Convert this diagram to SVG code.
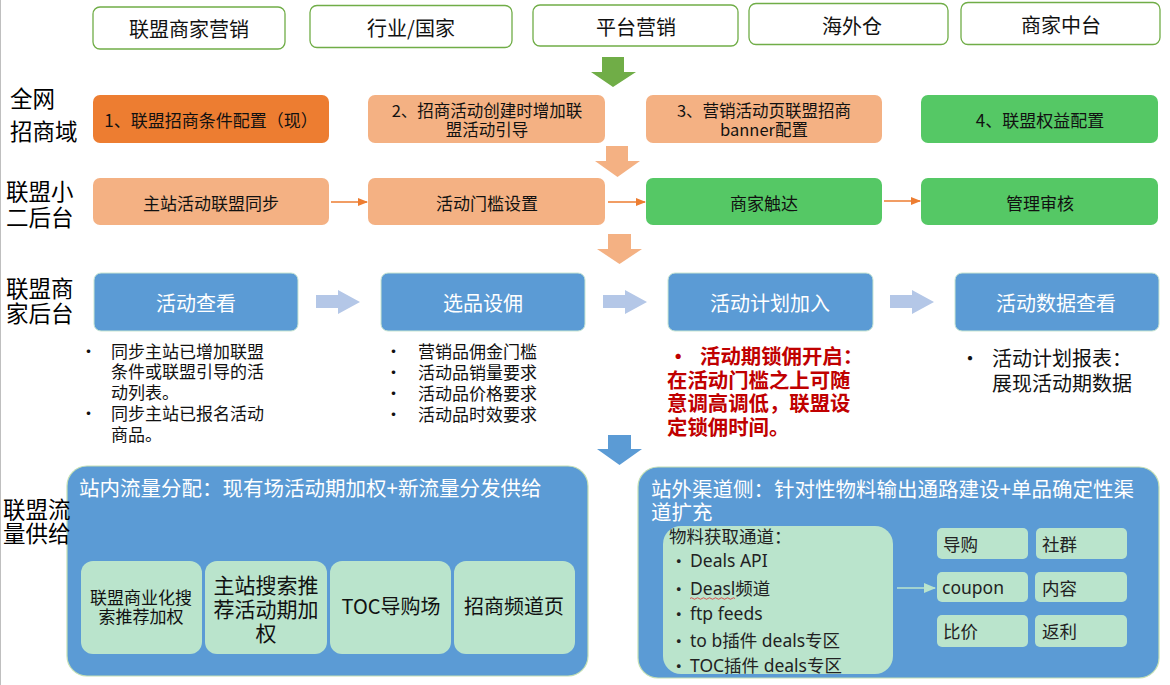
<svg xmlns="http://www.w3.org/2000/svg" width="1170" height="685" viewBox="0 0 1170 685">
<defs>
<style>
text{font-family:"Noto Sans CJK SC","Noto Sans",sans-serif;dominant-baseline:central;fill:#111}
.lat{font-family:"Noto Sans","Noto Sans CJK SC",sans-serif}
.top rect{fill:#fff;stroke:#70AD47;stroke-width:1.3}
.top text{font-size:20px;text-anchor:middle}
.lab{font-size:22.5px;fill:#000}
.o1{fill:#ED7D31}
.o2{fill:#F4B183}
.gr{fill:#55C865}
.r2 text{font-size:17px;text-anchor:middle}
.r2 text.two{font-size:16.5px}
.bl rect{fill:#5B9BD5;stroke:#C9E6D2;stroke-width:1}
.bl text{font-size:20px;fill:#fff;text-anchor:middle}
.bul{font-size:17px}
.red{font-size:20.4px;font-weight:bold;fill:#C00000}
.big{fill:#5B9BD5;stroke:#C5E0B4;stroke-width:1.2}
.ttl{font-size:20.5px;fill:#fff}
.lg{fill:#BAE4CC}
.sub text{text-anchor:middle}
.sm text{font-size:17.5px;fill:#222}
.lst{font-size:17.5px;fill:#222}
</style>
<marker id="ao" markerWidth="10" markerHeight="8" refX="9" refY="4" orient="auto" markerUnits="userSpaceOnUse"><path d="M0,0 L10,4 L0,8 Z" fill="#ED7D31"/></marker>
<marker id="ag" markerWidth="12" markerHeight="10" refX="11" refY="5" orient="auto" markerUnits="userSpaceOnUse"><path d="M0,0 L12,5 L0,10 Z" fill="#BAE4CC"/></marker>
</defs>
<rect x="0" y="0" width="1170" height="685" fill="#fff"/>
<line x1="0.5" y1="0" x2="0.5" y2="685" stroke="#BFBFBF" stroke-width="1"/>

<!-- top row -->
<g class="top">
<g id="t1"><rect x="93" y="7" width="192" height="42" rx="7"/><text x="189" y="28">联盟商家营销</text></g>
<g id="t2"><rect x="310" y="5.5" width="202" height="42" rx="7"/><text x="411" y="27">行业/国家</text></g>
<g id="t3"><rect x="533" y="5" width="205" height="41" rx="7"/><text x="636" y="26">平台营销</text></g>
<g id="t4"><rect x="749" y="3.5" width="199" height="41" rx="7"/><text x="852" y="25">海外仓</text></g>
<g id="t5"><rect x="961" y="2.5" width="199" height="42" rx="7"/><text x="1061" y="24">商家中台</text></g>
</g>

<!-- row 2 -->
<g class="r2">
<g id="r2a"><rect class="o1" x="93" y="95" width="236" height="48" rx="7"/><text x="211" y="119">1、联盟招商条件配置（现）</text></g>
<g id="r2b"><rect class="o2" x="368" y="95" width="237" height="48" rx="7"/><text class="two" x="487" y="109.5">2、招商活动创建时增加联</text><text class="two" x="487" y="128.5">盟活动引导</text></g>
<g id="r2c"><rect class="o2" x="646" y="95" width="236" height="48" rx="7"/><text class="two" x="764" y="109.5">3、营销活动页联盟招商</text><text class="two" x="764" y="128.5">banner配置</text></g>
<g id="r2d"><rect class="gr" x="921" y="95" width="237" height="48" rx="7"/><text x="1040" y="119">4、联盟权益配置</text></g>
</g>

<!-- row 3 -->
<g class="r2">
<g id="r3a"><rect class="o2" x="93" y="178" width="236" height="47" rx="7"/><text x="211" y="202">主站活动联盟同步</text></g>
<g id="r3b"><rect class="o2" x="368" y="178" width="237" height="47" rx="7"/><text x="487" y="202">活动门槛设置</text></g>
<g id="r3c"><rect class="gr" x="646" y="178" width="236" height="47" rx="7"/><text x="764" y="202">商家触达</text></g>
<g id="r3d"><rect class="gr" x="921" y="178" width="237" height="47" rx="7"/><text x="1040" y="202">管理审核</text></g>
</g>

<!-- row 4 -->
<g class="bl">
<g id="r4a"><rect x="94" y="273" width="204" height="58" rx="7"/><text x="196" y="302">活动查看</text></g>
<g id="r4b"><rect x="381" y="273" width="204" height="58" rx="7"/><text x="483" y="302">选品设佣</text></g>
<g id="r4c"><rect x="668" y="273" width="205" height="58" rx="7"/><text x="770" y="302">活动计划加入</text></g>
<g id="r4d"><rect x="955" y="273" width="204" height="58" rx="7"/><text x="1056" y="302">活动数据查看</text></g>
</g>

<!-- bullets -->
<g id="notes1" class="bul">
<text x="80" y="350">•</text><text x="111" y="350">同步主站已增加联盟</text>
<text x="111" y="370.5">条件或联盟引导的活</text>
<text x="111" y="391">动列表。</text>
<text x="80" y="412">•</text><text x="111" y="412">同步主站已报名活动</text>
<text x="111" y="433">商品。</text>
</g>
<g id="notes2" class="bul">
<text x="385" y="350">•</text><text x="418" y="350">营销品佣金门槛</text>
<text x="385" y="371">•</text><text x="418" y="371">活动品销量要求</text>
<text x="385" y="392">•</text><text x="418" y="392">活动品价格要求</text>
<text x="385" y="413">•</text><text x="418" y="413">活动品时效要求</text>
</g>
<g id="notes3" class="red">
<text class="red" x="668" y="355">•</text><text class="red" x="700" y="355">活动期锁佣开启：</text>
<text class="red" x="667" y="378.5">在活动门槛之上可随</text>
<text class="red" x="667" y="402">意调高调低，联盟设</text>
<text class="red" x="667" y="425.5">定锁佣时间。</text>
</g>
<g id="notes4">
<text x="960" y="357" style="font-size:20px">•</text><text x="992" y="357" style="font-size:20px">活动计划报表：</text>
<text x="992" y="382" style="font-size:20px">展现活动期数据</text>
</g>

<!-- bottom left -->
<g id="inner">
<rect class="big" x="67" y="466" width="521" height="210" rx="20"/>
<text class="ttl" x="79" y="487">站内流量分配：现有场活动期加权+新流量分发供给</text>
<g class="sub">
<g id="s1"><rect class="lg" x="81" y="561" width="121" height="93" rx="12"/><text x="141" y="596.5" style="font-size:17px">联盟商业化搜</text><text x="141" y="615.5" style="font-size:17px">索推荐加权</text></g>
<g id="s2"><rect class="lg" x="205" y="561" width="122" height="93" rx="12"/><text x="266" y="584" style="font-size:21px">主站搜索推</text><text x="266" y="608" style="font-size:21px">荐活动期加</text><text x="266" y="631.5" style="font-size:21px">权</text></g>
<g id="s3"><rect class="lg" x="330" y="561" width="121" height="93" rx="12"/><text x="391" y="605" style="font-size:20px">TOC导购场</text></g>
<g id="s4"><rect class="lg" x="454" y="561" width="121" height="93" rx="12"/><text x="514" y="605" style="font-size:20px">招商频道页</text></g>
</g>
</g>

<!-- bottom right -->
<g id="outer">
<rect class="big" x="638" y="467" width="521" height="211" rx="20"/>
<text class="ttl" x="651" y="488">站外渠道侧：针对性物料输出通路建设+单品确定性渠</text>
<text class="ttl" x="651" y="511">道扩充</text>
<g id="material">
<rect class="lg" x="663" y="526" width="230" height="148" rx="18"/>
<text class="lst" x="669" y="535">物料获取通道：</text>
<text class="lst" x="670" y="560">•</text><text class="lst lat" x="690" y="560">Deals API</text>
<text class="lst" x="670" y="588">•</text><text class="lst lat" x="690" y="588">Deasl频道</text>
<text class="lst" x="670" y="613">•</text><text class="lst lat" x="690" y="613">ftp feeds</text>
<text class="lst" x="670" y="640">•</text><text class="lst lat" x="690" y="640">to b插件 deals专区</text>
<text class="lst" x="670" y="665">•</text><text class="lst lat" x="690" y="665">TOC插件 deals专区</text>
<path d="M690,598.5 q1.5,-1.5 3,0 t3,0 t3,0 t3,0 t3,0 t3,0 t3,0 t3,0 t3,0 t3,0 t3,0 t3,0 t3,0 t3,0 t3,0" fill="none" stroke="#E03030" stroke-width="0.8"/>
</g>
<g class="sm">
<g id="c1"><rect class="lg" x="937" y="528" width="91" height="31" rx="5"/><text x="943" y="543">导购</text></g>
<g id="c2"><rect class="lg" x="1036" y="528" width="91" height="31" rx="5"/><text x="1042" y="543">社群</text></g>
<g id="c3"><rect class="lg" x="937" y="572" width="91" height="30" rx="5"/><text class="lat" x="942" y="587">coupon</text></g>
<g id="c4"><rect class="lg" x="1035" y="572" width="92" height="30" rx="5"/><text x="1042" y="587">内容</text></g>
<g id="c5"><rect class="lg" x="937" y="615" width="91" height="32" rx="5"/><text x="943" y="630">比价</text></g>
<g id="c6"><rect class="lg" x="1035" y="615" width="92" height="32" rx="5"/><text x="1042" y="630">返利</text></g>
</g>
</g>

<!-- connectors -->
<g id="connectors">
<path d="M602,57 H624 V72 H636 L613,87 L591,72 H602 Z" fill="#70AD47"/>
<path d="M606,146 H628 V161 H640 L617.5,177 L595,161 H606 Z" fill="#F4B183"/>
<path d="M608,234 H631 V249 H642 L619.5,264 L597,249 H608 Z" fill="#F4B183"/>
<path d="M608,435 H631 V449 H642 L619.5,465 L597,449 H608 Z" fill="#5B9BD5"/>
<line x1="331" y1="202" x2="367" y2="202" stroke="#ED7D31" stroke-width="1.3" marker-end="url(#ao)"/>
<line x1="608" y1="202" x2="645" y2="202" stroke="#ED7D31" stroke-width="1.3" marker-end="url(#ao)"/>
<line x1="884" y1="201" x2="920" y2="201" stroke="#ED7D31" stroke-width="1.3" marker-end="url(#ao)"/>
<path d="M316,295 H338 V290 L360,302 L338,314 V308 H316 Z" fill="#B4C7E7"/>
<path d="M603,295 H625 V290 L647,302 L625,314 V308 H603 Z" fill="#B4C7E7"/>
<path d="M890,295 H912 V290 L934,302 L912,314 V308 H890 Z" fill="#B4C7E7"/>
<line x1="897" y1="588" x2="935" y2="588" stroke="#BAE4CC" stroke-width="1.3" marker-end="url(#ag)"/>
</g>

<!-- row labels (drawn on top) -->
<g id="labels">
<text class="lab" x="10" y="97">全网</text>
<text class="lab" x="10" y="130">招商域</text>
<text class="lab" x="6" y="190">联盟小</text>
<text class="lab" x="6" y="216">二后台</text>
<text class="lab" x="6" y="287">联盟商</text>
<text class="lab" x="6" y="312">家后台</text>
<text class="lab" x="3" y="508">联盟流</text>
<text class="lab" x="3" y="532">量供给</text>
</g>
</svg>
